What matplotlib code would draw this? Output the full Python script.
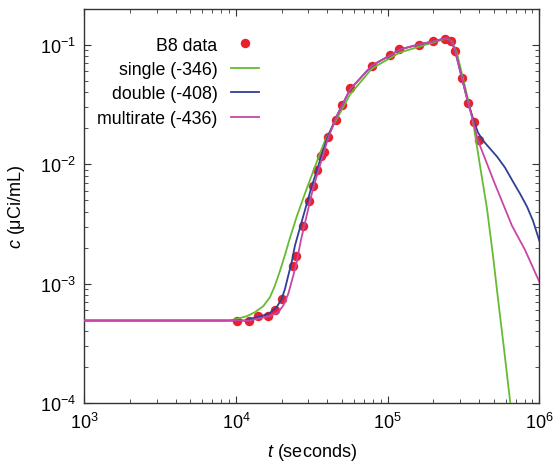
import matplotlib.pyplot as plt

plt.rcParams['font.family'] = ['Liberation Sans', 'DejaVu Sans']
plt.rcParams['mathtext.fontset'] = 'custom'
plt.rcParams['mathtext.rm'] = 'Liberation Sans'
plt.rcParams['mathtext.it'] = 'Liberation Sans:italic'

# B8 data points
data_t = [10100, 12200, 14000, 16200, 18100, 20100, 23800, 24900, 27700, 30300,
          32200, 34200, 36400, 38100, 40500, 45700, 50100, 56500, 78900, 103700,
          118900, 161000, 199000, 239000, 262000, 278000, 309000, 339000, 371000, 400000]
data_c = [4.9e-4, 4.9e-4, 5.4e-4, 5.4e-4, 6.0e-4, 7.5e-4, 1.41e-3, 1.71e-3, 3.05e-3, 4.94e-3,
          6.6e-3, 9.0e-3, 1.16e-2, 1.27e-2, 1.67e-2, 2.36e-2, 3.15e-2, 4.3e-2, 6.56e-2, 8.1e-2,
          9.1e-2, 0.100, 0.106, 0.112, 0.108, 0.089, 0.052, 0.0327, 0.0227, 0.016]

# single-rate fit
single_t = [1000, 9140, 10110, 11780, 13350, 15140, 16760, 18080, 19510, 21050,
            22710, 25260, 28950, 34740, 38640, 46360, 56480, 78880, 120600, 190200, 246200,
            265600, 286600, 314000, 343900, 365400, 406300, 451900, 495100, 534100, 585000, 650500]
single_c = [4.92e-4, 4.92e-4, 5.08e-4, 5.35e-4, 5.78e-4, 6.49e-4, 7.72e-4, 9.66e-4, 1.28e-3, 1.746e-3,
            2.42e-3, 3.70e-3, 6.00e-3, 1.112e-2, 1.573e-2, 2.404e-2, 3.82e-2, 6.31e-2, 8.59e-2, 0.1021, 0.1125,
            0.1061, 8.42e-2, 5.20e-2, 3.21e-2, 2.27e-2, 9.71e-3, 4.24e-3, 1.71e-3, 7.47e-4, 2.85e-4, 8.96e-5]

# double-rate fit
double_t = [1000, 11470, 12380, 14780, 16760, 18560, 20020, 21050, 22130, 23300,
            24500, 31240, 39830, 46360, 56480, 78880, 103600, 120600, 161000, 199100,
            238800, 261600, 278000, 309200, 338800, 371000, 394200, 425300, 472900, 526000,
            593800, 670800, 745700, 829600, 908500, 1000000]
double_c = [4.92e-4, 4.92e-4, 5.08e-4, 5.35e-4, 5.71e-4, 6.37e-4, 7.47e-4, 9.06e-4, 1.172e-3, 1.517e-3,
            2.089e-3, 6.23e-3, 1.636e-2, 2.55e-2, 4.21e-2, 6.68e-2, 8.10e-2, 9.10e-2, 0.1002, 0.1061,
            0.1125, 0.1082, 8.92e-2, 5.20e-2, 3.27e-2, 2.27e-2, 1.836e-2, 1.573e-2, 1.348e-2, 1.156e-2,
            9.35e-3, 7.13e-3, 5.66e-3, 4.41e-3, 3.36e-3, 2.29e-3]

# multirate fit
multi_t = [1000, 12380, 13700, 16760, 19010, 20510, 22130, 23880, 25140, 26840,
           32200, 40440, 46360, 56480, 78880, 103600, 120600, 161000, 199100, 238800,
           261600, 278000, 309200, 338800, 365400, 394200, 502500, 660400, 804300, 1000000]
multi_c = [4.92e-4, 4.92e-4, 5.08e-4, 5.35e-4, 5.78e-4, 6.57e-4, 8.23e-4, 1.172e-3, 1.517e-3, 2.33e-3,
           6.23e-3, 1.636e-2, 2.55e-2, 4.21e-2, 6.68e-2, 8.10e-2, 9.10e-2, 0.1002, 0.1061, 0.1125,
           0.1082, 8.92e-2, 5.20e-2, 3.27e-2, 2.31e-2, 1.573e-2, 7.13e-3, 3.05e-3, 1.92e-3, 1.037e-3]

fig = plt.figure(figsize=(5.56, 4.64), dpi=100)
ax = fig.add_axes([0.1516, 0.1287, 0.8184, 0.8508])

ax.plot(data_t, data_c, 'o', color='#e8222c', ms=6.8, mec='none', zorder=2, label='B8 data')
ax.plot(single_t, single_c, color='#66bb33', lw=1.3, zorder=3, label='single (-346)')
ax.plot(double_t, double_c, color='#2f3f96', lw=1.3, zorder=3, label='double (-408)')
ax.plot(multi_t, multi_c, color='#c846a8', lw=1.3, zorder=3, label='multirate (-436)')

ax.set_xscale('log')
ax.set_yscale('log')
ax.set_xlim(1e3, 1e6)
ax.set_ylim(1e-4, 0.2)

ax.set_xlabel(r'$t$ (seconds)', fontsize=13, labelpad=7)
ax.set_ylabel(r'$c$ (μCi/mL)', fontsize=13, labelpad=9)

for s in ax.spines.values():
    s.set_color('#333333')
    s.set_linewidth(1.0)
ax.tick_params(which='both', direction='in', top=True, right=True, colors='#333333',
               labelcolor='black', labelsize=13)
ax.tick_params(which='major', length=5, width=0.8, pad=6)
ax.tick_params(which='minor', length=3, width=0.6)

ax.legend(loc='upper right', bbox_to_anchor=(0.40, 0.947), frameon=False, fontsize=12.8,
          markerfirst=False, handlelength=1.6, handletextpad=0.75, labelspacing=0.42,
          borderaxespad=0)

fig.savefig('out.png', dpi=100)
